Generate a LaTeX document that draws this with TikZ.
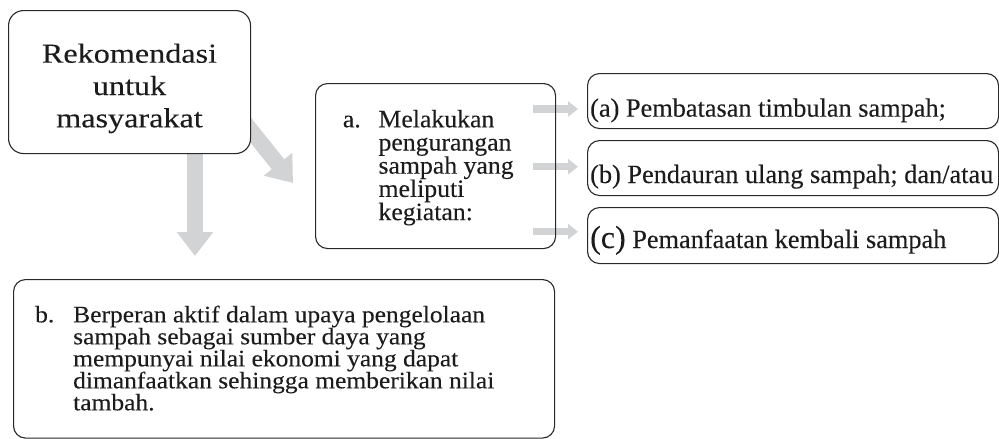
\documentclass[tikz,border=0pt]{standalone}
\usepackage{fontspec}
\usetikzlibrary{arrows.meta,backgrounds,calc}
\newfontfamily\fhead[FakeStretch=1.17,FakeBold=0.15]{Liberation Serif}
\newfontfamily\fitema[FakeStretch=1.03,FakeBold=0.15]{Liberation Serif}
\newfontfamily\fsub[FakeBold=0.15]{Liberation Serif}
\newfontfamily\fitemb[FakeStretch=1.08,FakeBold=0.15]{Liberation Serif}
\definecolor{arrowgray}{RGB}{210,211,213}
\definecolor{framegray}{RGB}{40,40,40}
\definecolor{inkgray}{RGB}{28,28,28}
\begin{document}
\begin{tikzpicture}[x=1pt,y=-1pt,
  box/.style={draw=framegray,line width=1.1pt,rounded corners=12pt,inner sep=0pt,anchor=north west},
  txt/.style={inner sep=0pt,text=inkgray},
  fatarrow/.style={draw=arrowgray,line width=16pt,-{Triangle[width=35pt,length=24pt]}},
  thinarrow/.style={draw=arrowgray,line width=7.5pt,-{Triangle[width=15pt,length=10pt]}}]
\useasboundingbox (0,0) rectangle (999,439);

% boxes
\node[box,fill=white,rounded corners=15pt,minimum width=242pt,minimum height=143pt] (rek) at (8,10) {};
\node[box,minimum width=240pt,minimum height=165pt] (boxa) at (315,83) {};
\node[box,minimum width=411pt,minimum height=55pt] (ra) at (587,73) {};
\node[box,minimum width=411pt,minimum height=55pt] (rb) at (587,140) {};
\node[box,minimum width=411pt,minimum height=56pt] (rc) at (587,207) {};
\node[box,minimum width=541pt,minimum height=158.5pt] (boxb) at (13,279) {};

% texts (the base anchor of a multi-line node sits on its last line)
\node[txt,anchor=base,align=center,font=\fhead\fontsize{27.5}{32.3}\selectfont] (rektext) at (129.5,127.3)
  {Rekomendasi\\untuk\\masyarakat};
\node[txt,anchor=base west,font=\fitema\fontsize{25}{23.2}\selectfont] (alabel) at (342.7,127.3) {a.};
\node[txt,anchor=base west,align=left,font=\fitema\fontsize{25}{23.2}\selectfont] (atext) at (378.3,220.1)
  {Melakukan\\pengurangan\\sampah yang\\meliputi\\kegiatan:};
\node[txt,anchor=base west,font=\fsub\fontsize{26.3}{30}\selectfont] (ratext) at (590,116.7) {(a) Pembatasan timbulan sampah;};
\node[txt,anchor=base west,font=\fsub\fontsize{26.3}{30}\selectfont] (rbtext) at (590,183) {(b) Pendauran ulang sampah; dan/atau};
\node[txt,anchor=base west,font=\fsub\fontsize{26.3}{30}\selectfont] (rctext) at (590,248)
  {{\fontsize{32}{30}\selectfont(c)} Pemanfaatan kembali sampah};
\node[txt,anchor=base west,font=\fitemb\fontsize{23.6}{22}\selectfont] (blabel) at (35,322.3) {b.};
\node[txt,anchor=base west,align=left,font=\fitemb\fontsize{23.6}{22}\selectfont] (btext) at (73,410.3)
  {Berperan aktif dalam upaya pengelolaan\\sampah sebagai sumber daya yang\\mempunyai nilai ekonomi yang dapat\\dimanfaatkan sehingga memberikan nilai\\tambah.};

% arrow end points
\coordinate (vtip) at (195,256);
\coordinate (dtip) at (293,183);
\coordinate (dstart) at ($(rek.south east)+(0,-23.4)$);

\begin{pgfonlayer}{background}
  \draw[fatarrow,shorten <=-10pt] (rek.south -| vtip) -- (vtip);
  \draw[fatarrow,shorten <=-14pt] (dstart) -- (dtip);
  \draw[thinarrow] ([xshift=-23pt]boxa.east |- 0,109) -- ([xshift=-9pt]ra.west |- 0,109);
  \draw[thinarrow] ([xshift=-23pt]boxa.east |- 0,166.7) -- ([xshift=-9pt]rb.west |- 0,166.7);
  \draw[thinarrow] ([xshift=-23pt]boxa.east |- 0,231.7) -- ([xshift=-9pt]rc.west |- 0,231.7);
\end{pgfonlayer}
\end{tikzpicture}
\end{document}
